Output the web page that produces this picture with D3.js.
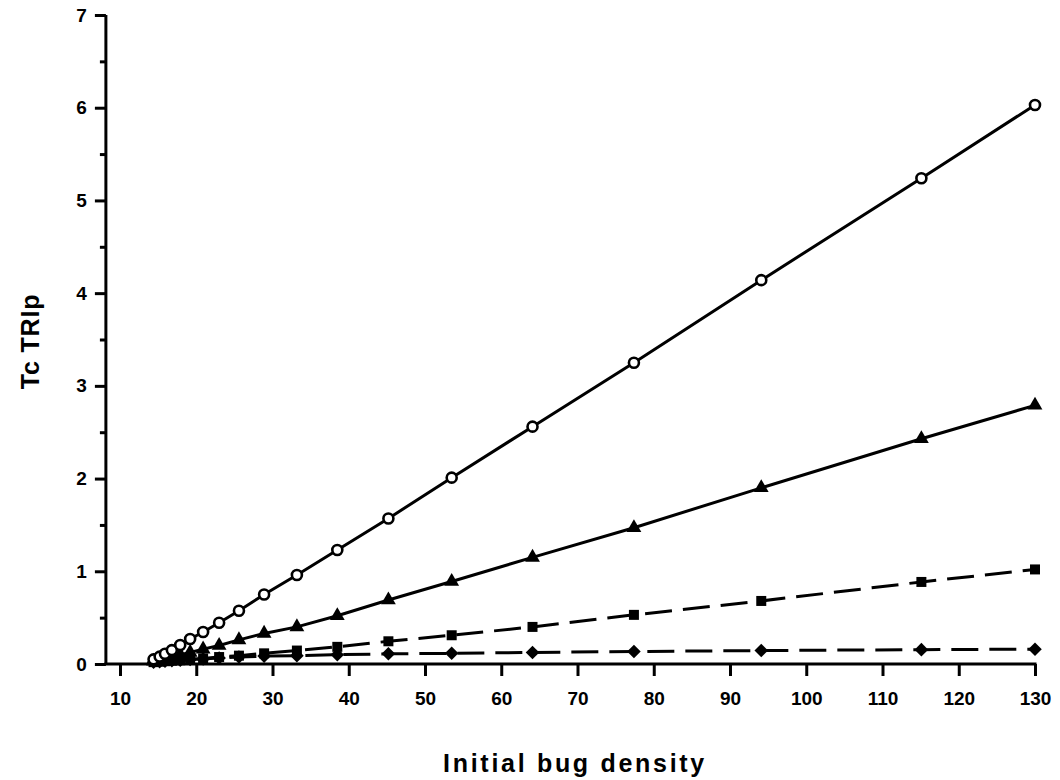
<!DOCTYPE html>
<html><head><meta charset="utf-8">
<script src="https://cdn.jsdelivr.net/npm/d3@7"></script>
<style>
body{margin:0;background:#fff}
text{font-family:"Liberation Sans",Arial,Helvetica,sans-serif;font-weight:bold;fill:#000}
</style>
</head><body><svg id="chart" width="1060" height="780"></svg>
<script>
// ---- data ----
const density = [14.4, 15.2, 15.9, 16.8, 17.9, 19.2, 20.9, 23.0, 25.6, 28.9, 33.2, 38.5, 45.2, 53.5, 64.1, 77.4, 94.1, 115.1, 130];
const seriesCircle   = [0.05, 0.08, 0.11, 0.15, 0.205, 0.27, 0.345, 0.445, 0.575, 0.75, 0.96, 1.23, 1.57, 2.01, 2.56, 3.25, 4.14, 5.24, 6.03];
const seriesTriangle = [0.03, 0.045, 0.06, 0.075, 0.10, 0.125, 0.16, 0.20, 0.26, 0.33, 0.40, 0.52, 0.69, 0.89, 1.15, 1.47, 1.90, 2.43, 2.79];
const seriesSquare   = [0.02, 0.025, 0.03, 0.035, 0.04, 0.05, 0.06, 0.075, 0.09, 0.115, 0.145, 0.185, 0.245, 0.31, 0.40, 0.53, 0.68, 0.885, 1.02];
const seriesDiamond  = [0.02, 0.025, 0.03, 0.035, 0.04, 0.05, 0.055, 0.065, 0.075, 0.085, 0.09, 0.10, 0.11, 0.115, 0.125, 0.135, 0.145, 0.155, 0.16];
const xTicks = [10, 20, 30, 40, 50, 60, 70, 80, 90, 100, 110, 120, 130];
const yTicks = [0, 1, 2, 3, 4, 5, 6, 7];
const yMinorTicks = [0.5, 1.5, 2.5, 3.5, 4.5, 5.5, 6.5];
const xTitle = "Initial bug density";
const yTitle = "Tc TRIp";

// ---- layout ----
const svg = d3.select("#chart");
const x = d3.scaleLinear().domain([10, 130]).range([120, 1035]);
const y = d3.scaleLinear().domain([0, 7]).range([664, 15]);
const xAxisStartValue = 8.15; // x-axis begins at the y-axis
const yAxisX = x(xAxisStartValue);
const AX = 3;
const tickFont = "19px";

// y axis
const gy = svg.append("g").attr("transform", `translate(${yAxisX},0)`);
gy.call(d3.axisLeft(y).tickValues(yTicks).tickFormat(d3.format("d")).tickSize(11).tickPadding(8));
gy.append("g").call(d3.axisLeft(y).tickValues(yMinorTicks).tickFormat("").tickSize(6))
  .select(".domain").remove();
gy.selectAll(".domain").attr("stroke-width", AX).attr("d", `M0,${y(0)}V${y(7)}`);
gy.selectAll("line").attr("stroke-width", AX);
gy.selectAll("text").style("font-size", tickFont).style("font-family", "'Liberation Sans',Arial,sans-serif").style("font-weight", "bold");

// x axis
const gx = svg.append("g").attr("transform", `translate(0,${y(0)})`);
gx.call(d3.axisBottom(x).tickValues(xTicks).tickFormat(d3.format("d")).tickSize(12).tickPadding(16));
gx.select(".domain").attr("stroke-width", AX).attr("d", `M${yAxisX - AX/2},0H${x(130) + AX/2}`);
gx.selectAll("line").attr("stroke-width", AX);
gx.selectAll("text").style("font-size", tickFont).style("font-family", "'Liberation Sans',Arial,sans-serif").style("font-weight", "bold");

// titles
svg.append("text").attr("x", 575).attr("y", 772).attr("text-anchor", "middle")
  .style("font-size", "25px").style("letter-spacing", "2.7px").text(xTitle);
svg.append("text").attr("transform", `translate(39,${y(3.5) + 2}) rotate(-90)`).attr("text-anchor", "middle")
  .style("font-size", "25px").style("letter-spacing", "0.8px").text(yTitle);

// ---- series ----
const series = [
  {vals: seriesDiamond, dash: "27,11", sym: d3.symbolSquare, size: 92, rot: 45},
  {vals: seriesSquare, dash: "27,11", sym: d3.symbolSquare, size: 100, rot: 0},
  {vals: seriesTriangle, dash: null, sym: d3.symbolTriangle, size: 95, rot: 0},
  {vals: seriesCircle, dash: null, sym: null, size: 0, rot: 0}
];
const line = d3.line().x(d => x(d[0])).y(d => y(d[1]));
series.forEach(s => {
  const pts = density.map((d, i) => [d, s.vals[i]]);
  svg.append("path").datum(pts).attr("d", line).attr("fill", "none")
    .attr("stroke", "#000").attr("stroke-width", 3)
    .attr("stroke-dasharray", s.dash);
});
series.forEach(s => {
  const pts = density.map((d, i) => [d, s.vals[i]]);
  if (s.sym) {
    svg.append("g").selectAll("path").data(pts).join("path")
      .attr("transform", d => `translate(${x(d[0])},${y(d[1])}) rotate(${s.rot})`)
      .attr("d", d3.symbol().type(s.sym).size(s.size))
      .attr("fill", "#000");
  } else {
    svg.append("g").selectAll("circle").data(pts).join("circle")
      .attr("cx", d => x(d[0])).attr("cy", d => y(d[1])).attr("r", 5)
      .attr("fill", "#fff").attr("stroke", "#000").attr("stroke-width", 2.6);
  }
});
</script>
</body></html>
